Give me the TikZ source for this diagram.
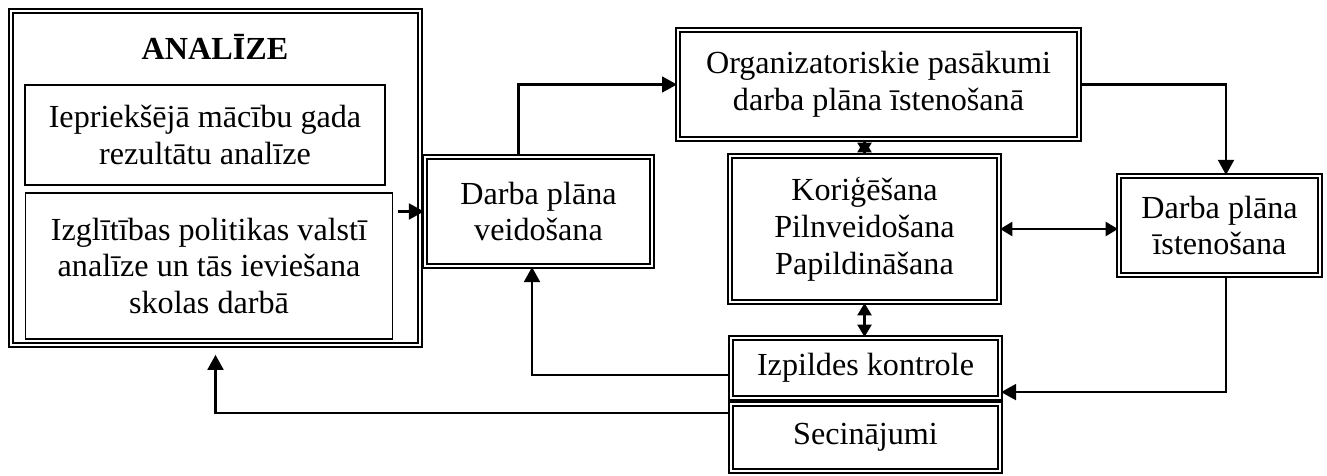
\documentclass[tikz,border=0pt]{standalone}
\usepackage{fontspec}
\setmainfont{Liberation Serif}
\usetikzlibrary{arrows.meta}

\begin{document}
\begin{tikzpicture}[x=0.02cm, y=-0.02cm,
        every node/.style={font=\fontsize{18.3}{21}\selectfont, align=center, inner sep=0pt},
        dbox/.style={draw, double, double distance=1.3pt, line width=1.25pt},
        sbox/.style={draw, line width=0.9pt},
        arr/.style={line width=1.3pt, -{Triangle[length=8.5pt, width=9pt]}},
        darr/.style={line width=1.3pt, {Triangle[length=7pt, width=8pt]}-{Triangle[length=7pt, width=8pt]}}]
    \useasboundingbox (0,0) rectangle (1327,476);
    % analize
    \node[dbox, minimum width=8.18cm, minimum height=6.68cm] (analiza) at (215.5,178) {};
    \node[font=\fontsize{18.3}{21}\selectfont\bfseries] (virsraksts) at (215,47) {ANALĪZE};
    \node[sbox, minimum width=7.2cm, minimum height=2cm] (iepr) at (205,135) {Iepriekšējā mācību gada\\rezultātu analīze};
    \node[sbox, line width=0.6pt, minimum width=7.36cm, minimum height=2.92cm] (izgl) at (209,266) {Izglītības politikas valstī\\analīze un tās ieviešana\\skolas darbā};
    % plans
    \node[dbox, minimum width=4.54cm, minimum height=2.18cm] (veid) at (538.5,211.5) {Darba plāna\\veidošana};
    \node[dbox, minimum width=8.02cm, minimum height=2.18cm] (org) at (878.5,84.5) {Organizatoriskie pasākumi\\darba plāna īstenošanā};
    \node[dbox, minimum width=5.38cm, minimum height=2.92cm] (korig) at (864.5,229) {Koriģēšana\\Pilnveidošana\\Papildināšana};
    \node[dbox, minimum width=4.02cm, minimum height=1.98cm] (isten) at (1219.5,225.5) {Darba plāna\\īstenošana};
    \node[dbox, minimum width=5.38cm, minimum height=1.2cm] (izp) at (865.5,368) {Izpildes kontrole};
    \node[dbox, minimum width=5.38cm, minimum height=1.34cm] (sec) at (865.5,437.5) {Secinājumi};
    % bultas
    \draw[arr, shorten <=2.3pt] (izgl.east |- veid.west) -- (veid.west);
    \draw[arr] ([xshift=-0.4cm]veid.north) |- (org.west);
    \draw[arr] (org.east) -| ([xshift=0.13cm]isten.north);
    \draw[darr] (korig.north |- org.south) -- (korig.north);
    \draw[darr] (korig.east) -- (korig.east -| isten.west);
    \draw[darr] (korig.south) -- (korig.south |- izp.north);
    \draw[arr] ([xshift=0.13cm]isten.south) |- ([yshift=0.14cm]izp.south east);
    \draw[arr] ([yshift=-0.14cm]izp.west) -| ([xshift=-0.13cm]veid.south);
    \draw[arr, shorten >=5pt] ([yshift=-0.2cm]sec.north west) -| (analiza.south);
\end{tikzpicture}
\end{document}
